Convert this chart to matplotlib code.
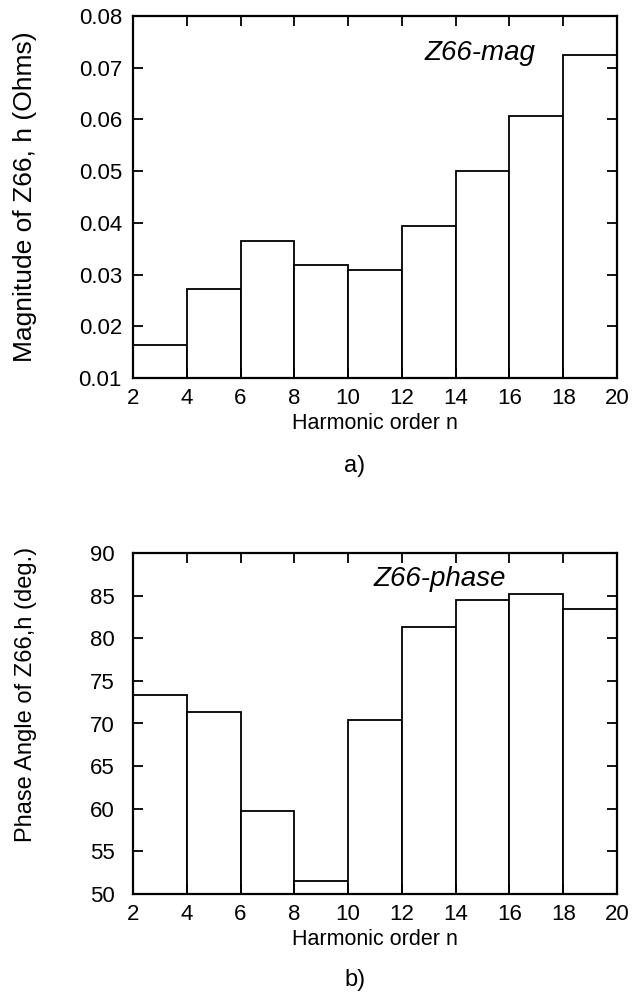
import matplotlib
matplotlib.use("Agg")
import matplotlib.pyplot as plt

plt.rcParams['font.family'] = ['Liberation Sans', 'DejaVu Sans']

# Data
harmonic_edges = [2, 4, 6, 8, 10, 12, 14, 16, 18]
mag_values = [0.0164, 0.0273, 0.0364, 0.0319, 0.0308, 0.0393, 0.0500, 0.0607, 0.0725]
phase_values = [73.4, 71.3, 59.7, 51.5, 70.4, 81.3, 84.5, 85.2, 83.4]
x_ticks = [2, 4, 6, 8, 10, 12, 14, 16, 18, 20]
mag_ticks = [0.01, 0.02, 0.03, 0.04, 0.05, 0.06, 0.07, 0.08]
mag_tick_labels = ['0.01', '0.02', '0.03', '0.04', '0.05', '0.06', '0.07', '0.08']
phase_ticks = [50, 55, 60, 65, 70, 75, 80, 85, 90]

W, H = 632, 999
fig = plt.figure(figsize=(W / 100, H / 100), dpi=100)

def axes_px(left, top, right, bottom):
    return fig.add_axes([left / W, 1 - bottom / H, (right - left) / W, (bottom - top) / H])

ax1 = axes_px(133, 16, 617, 378)
ax2 = axes_px(133, 553, 617, 894)

def style(ax, ypad):
    for s in ax.spines.values():
        s.set_linewidth(1.6)
    ax.tick_params(direction='in', length=7, width=1.3, top=True, right=True,
                   labelsize=16)
    ax.tick_params(axis='x', pad=7)
    ax.tick_params(axis='y', pad=ypad)
    ax.set_xlim(2, 20)
    ax.set_xticks(x_ticks)
    ax.set_xlabel('Harmonic order n', fontsize=15.5, labelpad=3)

ax1.bar(harmonic_edges, mag_values, width=2, align='edge', color='white',
        edgecolor='black', linewidth=1.3)
style(ax1, 8)
ax1.set_ylim(0.01, 0.08)
ax1.set_yticks(mag_ticks)
ax1.set_yticklabels(mag_tick_labels)
ax1.set_ylabel('Magnitude of Z66, h (Ohms)', fontsize=19)
ax1.yaxis.set_label_coords(-0.198, 0.5)
ax1.text(12.86, 0.0728, 'Z66-mag', fontsize=20, style='italic', ha='left', va='center')

ax2.bar(harmonic_edges, phase_values, width=2, align='edge', color='white',
        edgecolor='black', linewidth=1.3)
style(ax2, 13)
ax2.set_ylim(50, 90)
ax2.set_yticks(phase_ticks)
ax2.set_ylabel('Phase Angle of Z66,h (deg.)', fontsize=17)
ax2.yaxis.set_label_coords(-0.198, 0.584)
ax2.text(10.93, 87.0, 'Z66-phase', fontsize=20, style='italic', ha='left', va='center')

fig.text(355 / W, 1 - 466 / H, 'a)', fontsize=17, ha='center', va='center')
fig.text(355 / W, 1 - 980 / H, 'b)', fontsize=17, ha='center', va='center')

fig.savefig('out.png', dpi=100, facecolor='white')
